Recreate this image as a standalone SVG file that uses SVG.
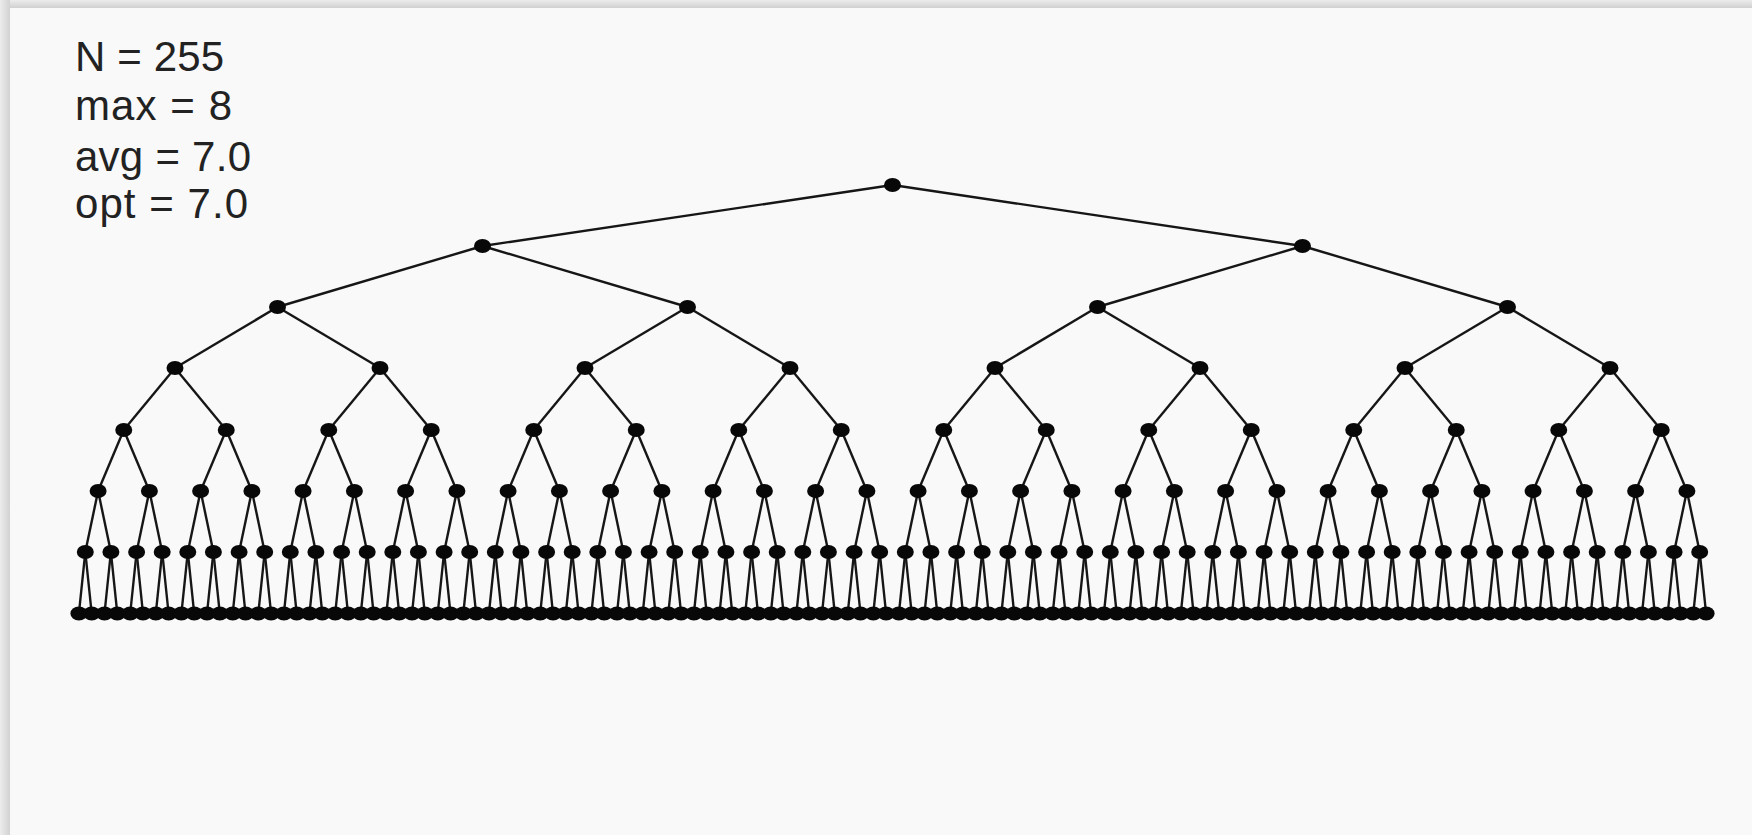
<svg xmlns="http://www.w3.org/2000/svg" width="1752" height="835" viewBox="0 0 1752 835">
<style>
.bg{fill:#f9f9f9}
.lbl{font-family:"Liberation Sans",Arial,sans-serif;font-size:42px;fill:#222}
#edges path{stroke:#161616;stroke-width:2.4;fill:none}
.n ellipse{fill:#080808}
</style>
<defs>
<linearGradient id="gl" x1="0" y1="0" x2="1" y2="0"><stop offset="0" stop-color="#ececec"/><stop offset="1" stop-color="#d2d2d2"/></linearGradient>
<linearGradient id="gt" x1="0" y1="0" x2="0" y2="1"><stop offset="0" stop-color="#ececec"/><stop offset="1" stop-color="#d0d0d0"/></linearGradient>
</defs>
<rect class="bg" x="0" y="0" width="1752" height="835"/>
<rect x="0" y="0" width="1752" height="8" fill="url(#gt)"/>
<rect x="0" y="0" width="10" height="835" fill="url(#gl)"/>
<g id="stats">
<text class="lbl" x="75" y="70.5" textLength="149" lengthAdjust="spacing">N = 255</text>
<text class="lbl" x="75" y="120" textLength="157" lengthAdjust="spacing">max = 8</text>
<text class="lbl" x="75" y="170.5" textLength="176" lengthAdjust="spacing">avg = 7.0</text>
<text class="lbl" x="75" y="218" textLength="173" lengthAdjust="spacing">opt = 7.0</text>
</g>
<g id="edges">
<path d="M892.5 185L482.5 246"/><path d="M892.5 185L1302.5 246"/>
<path d="M482.5 246L277.5 307"/><path d="M482.5 246L687.5 307"/><path d="M1302.5 246L1097.5 307"/><path d="M1302.5 246L1507.5 307"/>
<path d="M277.5 307L175 368"/><path d="M277.5 307L380 368"/><path d="M687.5 307L585 368"/><path d="M687.5 307L790 368"/><path d="M1097.5 307L995 368"/><path d="M1097.5 307L1200 368"/><path d="M1507.5 307L1405 368"/><path d="M1507.5 307L1610 368"/>
<path d="M175 368L123.75 430"/><path d="M175 368L226.25 430"/><path d="M380 368L328.75 430"/><path d="M380 368L431.25 430"/><path d="M585 368L533.75 430"/><path d="M585 368L636.25 430"/><path d="M790 368L738.75 430"/><path d="M790 368L841.25 430"/><path d="M995 368L943.75 430"/><path d="M995 368L1046.25 430"/><path d="M1200 368L1148.75 430"/><path d="M1200 368L1251.25 430"/><path d="M1405 368L1353.75 430"/><path d="M1405 368L1456.25 430"/><path d="M1610 368L1558.75 430"/><path d="M1610 368L1661.25 430"/>
<path d="M123.75 430L98.1 491"/><path d="M123.75 430L149.4 491"/><path d="M226.25 430L200.6 491"/><path d="M226.25 430L251.9 491"/><path d="M328.75 430L303.1 491"/><path d="M328.75 430L354.4 491"/><path d="M431.25 430L405.6 491"/><path d="M431.25 430L456.9 491"/><path d="M533.75 430L508.1 491"/><path d="M533.75 430L559.4 491"/><path d="M636.25 430L610.6 491"/><path d="M636.25 430L661.9 491"/><path d="M738.75 430L713.1 491"/><path d="M738.75 430L764.4 491"/><path d="M841.25 430L815.6 491"/><path d="M841.25 430L866.9 491"/><path d="M943.75 430L918.1 491"/><path d="M943.75 430L969.4 491"/><path d="M1046.25 430L1020.6 491"/><path d="M1046.25 430L1071.9 491"/><path d="M1148.75 430L1123.1 491"/><path d="M1148.75 430L1174.4 491"/><path d="M1251.25 430L1225.6 491"/><path d="M1251.25 430L1276.9 491"/><path d="M1353.75 430L1328.1 491"/><path d="M1353.75 430L1379.4 491"/><path d="M1456.25 430L1430.6 491"/><path d="M1456.25 430L1481.9 491"/><path d="M1558.75 430L1533.1 491"/><path d="M1558.75 430L1584.4 491"/><path d="M1661.25 430L1635.6 491"/><path d="M1661.25 430L1686.9 491"/>
<path d="M98.1 491L85.3 552"/><path d="M98.1 491L110.9 552"/><path d="M149.4 491L136.6 552"/><path d="M149.4 491L162.2 552"/><path d="M200.6 491L187.8 552"/><path d="M200.6 491L213.4 552"/><path d="M251.9 491L239.1 552"/><path d="M251.9 491L264.7 552"/><path d="M303.1 491L290.3 552"/><path d="M303.1 491L315.9 552"/><path d="M354.4 491L341.6 552"/><path d="M354.4 491L367.2 552"/><path d="M405.6 491L392.8 552"/><path d="M405.6 491L418.4 552"/><path d="M456.9 491L444.1 552"/><path d="M456.9 491L469.7 552"/><path d="M508.1 491L495.3 552"/><path d="M508.1 491L520.9 552"/><path d="M559.4 491L546.6 552"/><path d="M559.4 491L572.2 552"/><path d="M610.6 491L597.8 552"/><path d="M610.6 491L623.4 552"/><path d="M661.9 491L649.1 552"/><path d="M661.9 491L674.7 552"/><path d="M713.1 491L700.3 552"/><path d="M713.1 491L725.9 552"/><path d="M764.4 491L751.6 552"/><path d="M764.4 491L777.2 552"/><path d="M815.6 491L802.8 552"/><path d="M815.6 491L828.4 552"/><path d="M866.9 491L854.1 552"/><path d="M866.9 491L879.7 552"/><path d="M918.1 491L905.3 552"/><path d="M918.1 491L930.9 552"/><path d="M969.4 491L956.6 552"/><path d="M969.4 491L982.2 552"/><path d="M1020.6 491L1007.8 552"/><path d="M1020.6 491L1033.4 552"/><path d="M1071.9 491L1059.1 552"/><path d="M1071.9 491L1084.7 552"/><path d="M1123.1 491L1110.3 552"/><path d="M1123.1 491L1135.9 552"/><path d="M1174.4 491L1161.6 552"/><path d="M1174.4 491L1187.2 552"/><path d="M1225.6 491L1212.8 552"/><path d="M1225.6 491L1238.4 552"/><path d="M1276.9 491L1264.1 552"/><path d="M1276.9 491L1289.7 552"/><path d="M1328.1 491L1315.3 552"/><path d="M1328.1 491L1340.9 552"/><path d="M1379.4 491L1366.6 552"/><path d="M1379.4 491L1392.2 552"/><path d="M1430.6 491L1417.8 552"/><path d="M1430.6 491L1443.4 552"/><path d="M1481.9 491L1469.1 552"/><path d="M1481.9 491L1494.7 552"/><path d="M1533.1 491L1520.3 552"/><path d="M1533.1 491L1545.9 552"/><path d="M1584.4 491L1571.6 552"/><path d="M1584.4 491L1597.2 552"/><path d="M1635.6 491L1622.8 552"/><path d="M1635.6 491L1648.4 552"/><path d="M1686.9 491L1674.1 552"/><path d="M1686.9 491L1699.7 552"/>
<path d="M85.3 552L78.9 613.5"/><path d="M85.3 552L91.7 613.5"/><path d="M110.9 552L104.5 613.5"/><path d="M110.9 552L117.3 613.5"/><path d="M136.6 552L130.2 613.5"/><path d="M136.6 552L143 613.5"/><path d="M162.2 552L155.8 613.5"/><path d="M162.2 552L168.6 613.5"/><path d="M187.8 552L181.4 613.5"/><path d="M187.8 552L194.2 613.5"/><path d="M213.4 552L207 613.5"/><path d="M213.4 552L219.8 613.5"/><path d="M239.1 552L232.7 613.5"/><path d="M239.1 552L245.5 613.5"/><path d="M264.7 552L258.3 613.5"/><path d="M264.7 552L271.1 613.5"/><path d="M290.3 552L283.9 613.5"/><path d="M290.3 552L296.7 613.5"/><path d="M315.9 552L309.5 613.5"/><path d="M315.9 552L322.3 613.5"/><path d="M341.6 552L335.2 613.5"/><path d="M341.6 552L348 613.5"/><path d="M367.2 552L360.8 613.5"/><path d="M367.2 552L373.6 613.5"/><path d="M392.8 552L386.4 613.5"/><path d="M392.8 552L399.2 613.5"/><path d="M418.4 552L412 613.5"/><path d="M418.4 552L424.8 613.5"/><path d="M444.1 552L437.7 613.5"/><path d="M444.1 552L450.5 613.5"/><path d="M469.7 552L463.3 613.5"/><path d="M469.7 552L476.1 613.5"/><path d="M495.3 552L488.9 613.5"/><path d="M495.3 552L501.7 613.5"/><path d="M520.9 552L514.5 613.5"/><path d="M520.9 552L527.3 613.5"/><path d="M546.6 552L540.2 613.5"/><path d="M546.6 552L553 613.5"/><path d="M572.2 552L565.8 613.5"/><path d="M572.2 552L578.6 613.5"/><path d="M597.8 552L591.4 613.5"/><path d="M597.8 552L604.2 613.5"/><path d="M623.4 552L617 613.5"/><path d="M623.4 552L629.8 613.5"/><path d="M649.1 552L642.7 613.5"/><path d="M649.1 552L655.5 613.5"/><path d="M674.7 552L668.3 613.5"/><path d="M674.7 552L681.1 613.5"/><path d="M700.3 552L693.9 613.5"/><path d="M700.3 552L706.7 613.5"/><path d="M725.9 552L719.5 613.5"/><path d="M725.9 552L732.3 613.5"/><path d="M751.6 552L745.2 613.5"/><path d="M751.6 552L758 613.5"/><path d="M777.2 552L770.8 613.5"/><path d="M777.2 552L783.6 613.5"/><path d="M802.8 552L796.4 613.5"/><path d="M802.8 552L809.2 613.5"/><path d="M828.4 552L822 613.5"/><path d="M828.4 552L834.8 613.5"/><path d="M854.1 552L847.7 613.5"/><path d="M854.1 552L860.5 613.5"/><path d="M879.7 552L873.3 613.5"/><path d="M879.7 552L886.1 613.5"/><path d="M905.3 552L898.9 613.5"/><path d="M905.3 552L911.7 613.5"/><path d="M930.9 552L924.5 613.5"/><path d="M930.9 552L937.3 613.5"/><path d="M956.6 552L950.2 613.5"/><path d="M956.6 552L963 613.5"/><path d="M982.2 552L975.8 613.5"/><path d="M982.2 552L988.6 613.5"/><path d="M1007.8 552L1001.4 613.5"/><path d="M1007.8 552L1014.2 613.5"/><path d="M1033.4 552L1027 613.5"/><path d="M1033.4 552L1039.8 613.5"/><path d="M1059.1 552L1052.7 613.5"/><path d="M1059.1 552L1065.5 613.5"/><path d="M1084.7 552L1078.3 613.5"/><path d="M1084.7 552L1091.1 613.5"/><path d="M1110.3 552L1103.9 613.5"/><path d="M1110.3 552L1116.7 613.5"/><path d="M1135.9 552L1129.5 613.5"/><path d="M1135.9 552L1142.3 613.5"/><path d="M1161.6 552L1155.2 613.5"/><path d="M1161.6 552L1168 613.5"/><path d="M1187.2 552L1180.8 613.5"/><path d="M1187.2 552L1193.6 613.5"/><path d="M1212.8 552L1206.4 613.5"/><path d="M1212.8 552L1219.2 613.5"/><path d="M1238.4 552L1232 613.5"/><path d="M1238.4 552L1244.8 613.5"/><path d="M1264.1 552L1257.7 613.5"/><path d="M1264.1 552L1270.5 613.5"/><path d="M1289.7 552L1283.3 613.5"/><path d="M1289.7 552L1296.1 613.5"/><path d="M1315.3 552L1308.9 613.5"/><path d="M1315.3 552L1321.7 613.5"/><path d="M1340.9 552L1334.5 613.5"/><path d="M1340.9 552L1347.3 613.5"/><path d="M1366.6 552L1360.2 613.5"/><path d="M1366.6 552L1373 613.5"/><path d="M1392.2 552L1385.8 613.5"/><path d="M1392.2 552L1398.6 613.5"/><path d="M1417.8 552L1411.4 613.5"/><path d="M1417.8 552L1424.2 613.5"/><path d="M1443.4 552L1437 613.5"/><path d="M1443.4 552L1449.8 613.5"/><path d="M1469.1 552L1462.7 613.5"/><path d="M1469.1 552L1475.5 613.5"/><path d="M1494.7 552L1488.3 613.5"/><path d="M1494.7 552L1501.1 613.5"/><path d="M1520.3 552L1513.9 613.5"/><path d="M1520.3 552L1526.7 613.5"/><path d="M1545.9 552L1539.5 613.5"/><path d="M1545.9 552L1552.3 613.5"/><path d="M1571.6 552L1565.2 613.5"/><path d="M1571.6 552L1578 613.5"/><path d="M1597.2 552L1590.8 613.5"/><path d="M1597.2 552L1603.6 613.5"/><path d="M1622.8 552L1616.4 613.5"/><path d="M1622.8 552L1629.2 613.5"/><path d="M1648.4 552L1642 613.5"/><path d="M1648.4 552L1654.8 613.5"/><path d="M1674.1 552L1667.7 613.5"/><path d="M1674.1 552L1680.5 613.5"/><path d="M1699.7 552L1693.3 613.5"/><path d="M1699.7 552L1706.1 613.5"/>
</g>
<g id="nodes">
<g id="n1" class="n"><ellipse cx="892.5" cy="185" rx="8.5" ry="7"/></g>
<g id="n2" class="n"><ellipse cx="482.5" cy="246" rx="8.5" ry="7"/></g>
<g id="n3" class="n"><ellipse cx="1302.5" cy="246" rx="8.5" ry="7"/></g>
<g id="n4" class="n"><ellipse cx="277.5" cy="307" rx="8.5" ry="7"/></g>
<g id="n5" class="n"><ellipse cx="687.5" cy="307" rx="8.5" ry="7"/></g>
<g id="n6" class="n"><ellipse cx="1097.5" cy="307" rx="8.5" ry="7"/></g>
<g id="n7" class="n"><ellipse cx="1507.5" cy="307" rx="8.5" ry="7"/></g>
<g id="n8" class="n"><ellipse cx="175" cy="368" rx="8.5" ry="7"/></g>
<g id="n9" class="n"><ellipse cx="380" cy="368" rx="8.5" ry="7"/></g>
<g id="n10" class="n"><ellipse cx="585" cy="368" rx="8.5" ry="7"/></g>
<g id="n11" class="n"><ellipse cx="790" cy="368" rx="8.5" ry="7"/></g>
<g id="n12" class="n"><ellipse cx="995" cy="368" rx="8.5" ry="7"/></g>
<g id="n13" class="n"><ellipse cx="1200" cy="368" rx="8.5" ry="7"/></g>
<g id="n14" class="n"><ellipse cx="1405" cy="368" rx="8.5" ry="7"/></g>
<g id="n15" class="n"><ellipse cx="1610" cy="368" rx="8.5" ry="7"/></g>
<g id="n16" class="n"><ellipse cx="123.75" cy="430" rx="8.5" ry="7"/></g>
<g id="n17" class="n"><ellipse cx="226.25" cy="430" rx="8.5" ry="7"/></g>
<g id="n18" class="n"><ellipse cx="328.75" cy="430" rx="8.5" ry="7"/></g>
<g id="n19" class="n"><ellipse cx="431.25" cy="430" rx="8.5" ry="7"/></g>
<g id="n20" class="n"><ellipse cx="533.75" cy="430" rx="8.5" ry="7"/></g>
<g id="n21" class="n"><ellipse cx="636.25" cy="430" rx="8.5" ry="7"/></g>
<g id="n22" class="n"><ellipse cx="738.75" cy="430" rx="8.5" ry="7"/></g>
<g id="n23" class="n"><ellipse cx="841.25" cy="430" rx="8.5" ry="7"/></g>
<g id="n24" class="n"><ellipse cx="943.75" cy="430" rx="8.5" ry="7"/></g>
<g id="n25" class="n"><ellipse cx="1046.25" cy="430" rx="8.5" ry="7"/></g>
<g id="n26" class="n"><ellipse cx="1148.75" cy="430" rx="8.5" ry="7"/></g>
<g id="n27" class="n"><ellipse cx="1251.25" cy="430" rx="8.5" ry="7"/></g>
<g id="n28" class="n"><ellipse cx="1353.75" cy="430" rx="8.5" ry="7"/></g>
<g id="n29" class="n"><ellipse cx="1456.25" cy="430" rx="8.5" ry="7"/></g>
<g id="n30" class="n"><ellipse cx="1558.75" cy="430" rx="8.5" ry="7"/></g>
<g id="n31" class="n"><ellipse cx="1661.25" cy="430" rx="8.5" ry="7"/></g>
<g id="n32" class="n"><ellipse cx="98.1" cy="491" rx="8.5" ry="7"/></g>
<g id="n33" class="n"><ellipse cx="149.4" cy="491" rx="8.5" ry="7"/></g>
<g id="n34" class="n"><ellipse cx="200.6" cy="491" rx="8.5" ry="7"/></g>
<g id="n35" class="n"><ellipse cx="251.9" cy="491" rx="8.5" ry="7"/></g>
<g id="n36" class="n"><ellipse cx="303.1" cy="491" rx="8.5" ry="7"/></g>
<g id="n37" class="n"><ellipse cx="354.4" cy="491" rx="8.5" ry="7"/></g>
<g id="n38" class="n"><ellipse cx="405.6" cy="491" rx="8.5" ry="7"/></g>
<g id="n39" class="n"><ellipse cx="456.9" cy="491" rx="8.5" ry="7"/></g>
<g id="n40" class="n"><ellipse cx="508.1" cy="491" rx="8.5" ry="7"/></g>
<g id="n41" class="n"><ellipse cx="559.4" cy="491" rx="8.5" ry="7"/></g>
<g id="n42" class="n"><ellipse cx="610.6" cy="491" rx="8.5" ry="7"/></g>
<g id="n43" class="n"><ellipse cx="661.9" cy="491" rx="8.5" ry="7"/></g>
<g id="n44" class="n"><ellipse cx="713.1" cy="491" rx="8.5" ry="7"/></g>
<g id="n45" class="n"><ellipse cx="764.4" cy="491" rx="8.5" ry="7"/></g>
<g id="n46" class="n"><ellipse cx="815.6" cy="491" rx="8.5" ry="7"/></g>
<g id="n47" class="n"><ellipse cx="866.9" cy="491" rx="8.5" ry="7"/></g>
<g id="n48" class="n"><ellipse cx="918.1" cy="491" rx="8.5" ry="7"/></g>
<g id="n49" class="n"><ellipse cx="969.4" cy="491" rx="8.5" ry="7"/></g>
<g id="n50" class="n"><ellipse cx="1020.6" cy="491" rx="8.5" ry="7"/></g>
<g id="n51" class="n"><ellipse cx="1071.9" cy="491" rx="8.5" ry="7"/></g>
<g id="n52" class="n"><ellipse cx="1123.1" cy="491" rx="8.5" ry="7"/></g>
<g id="n53" class="n"><ellipse cx="1174.4" cy="491" rx="8.5" ry="7"/></g>
<g id="n54" class="n"><ellipse cx="1225.6" cy="491" rx="8.5" ry="7"/></g>
<g id="n55" class="n"><ellipse cx="1276.9" cy="491" rx="8.5" ry="7"/></g>
<g id="n56" class="n"><ellipse cx="1328.1" cy="491" rx="8.5" ry="7"/></g>
<g id="n57" class="n"><ellipse cx="1379.4" cy="491" rx="8.5" ry="7"/></g>
<g id="n58" class="n"><ellipse cx="1430.6" cy="491" rx="8.5" ry="7"/></g>
<g id="n59" class="n"><ellipse cx="1481.9" cy="491" rx="8.5" ry="7"/></g>
<g id="n60" class="n"><ellipse cx="1533.1" cy="491" rx="8.5" ry="7"/></g>
<g id="n61" class="n"><ellipse cx="1584.4" cy="491" rx="8.5" ry="7"/></g>
<g id="n62" class="n"><ellipse cx="1635.6" cy="491" rx="8.5" ry="7"/></g>
<g id="n63" class="n"><ellipse cx="1686.9" cy="491" rx="8.5" ry="7"/></g>
<g id="n64" class="n"><ellipse cx="85.3" cy="552" rx="8.5" ry="7"/></g>
<g id="n65" class="n"><ellipse cx="110.9" cy="552" rx="8.5" ry="7"/></g>
<g id="n66" class="n"><ellipse cx="136.6" cy="552" rx="8.5" ry="7"/></g>
<g id="n67" class="n"><ellipse cx="162.2" cy="552" rx="8.5" ry="7"/></g>
<g id="n68" class="n"><ellipse cx="187.8" cy="552" rx="8.5" ry="7"/></g>
<g id="n69" class="n"><ellipse cx="213.4" cy="552" rx="8.5" ry="7"/></g>
<g id="n70" class="n"><ellipse cx="239.1" cy="552" rx="8.5" ry="7"/></g>
<g id="n71" class="n"><ellipse cx="264.7" cy="552" rx="8.5" ry="7"/></g>
<g id="n72" class="n"><ellipse cx="290.3" cy="552" rx="8.5" ry="7"/></g>
<g id="n73" class="n"><ellipse cx="315.9" cy="552" rx="8.5" ry="7"/></g>
<g id="n74" class="n"><ellipse cx="341.6" cy="552" rx="8.5" ry="7"/></g>
<g id="n75" class="n"><ellipse cx="367.2" cy="552" rx="8.5" ry="7"/></g>
<g id="n76" class="n"><ellipse cx="392.8" cy="552" rx="8.5" ry="7"/></g>
<g id="n77" class="n"><ellipse cx="418.4" cy="552" rx="8.5" ry="7"/></g>
<g id="n78" class="n"><ellipse cx="444.1" cy="552" rx="8.5" ry="7"/></g>
<g id="n79" class="n"><ellipse cx="469.7" cy="552" rx="8.5" ry="7"/></g>
<g id="n80" class="n"><ellipse cx="495.3" cy="552" rx="8.5" ry="7"/></g>
<g id="n81" class="n"><ellipse cx="520.9" cy="552" rx="8.5" ry="7"/></g>
<g id="n82" class="n"><ellipse cx="546.6" cy="552" rx="8.5" ry="7"/></g>
<g id="n83" class="n"><ellipse cx="572.2" cy="552" rx="8.5" ry="7"/></g>
<g id="n84" class="n"><ellipse cx="597.8" cy="552" rx="8.5" ry="7"/></g>
<g id="n85" class="n"><ellipse cx="623.4" cy="552" rx="8.5" ry="7"/></g>
<g id="n86" class="n"><ellipse cx="649.1" cy="552" rx="8.5" ry="7"/></g>
<g id="n87" class="n"><ellipse cx="674.7" cy="552" rx="8.5" ry="7"/></g>
<g id="n88" class="n"><ellipse cx="700.3" cy="552" rx="8.5" ry="7"/></g>
<g id="n89" class="n"><ellipse cx="725.9" cy="552" rx="8.5" ry="7"/></g>
<g id="n90" class="n"><ellipse cx="751.6" cy="552" rx="8.5" ry="7"/></g>
<g id="n91" class="n"><ellipse cx="777.2" cy="552" rx="8.5" ry="7"/></g>
<g id="n92" class="n"><ellipse cx="802.8" cy="552" rx="8.5" ry="7"/></g>
<g id="n93" class="n"><ellipse cx="828.4" cy="552" rx="8.5" ry="7"/></g>
<g id="n94" class="n"><ellipse cx="854.1" cy="552" rx="8.5" ry="7"/></g>
<g id="n95" class="n"><ellipse cx="879.7" cy="552" rx="8.5" ry="7"/></g>
<g id="n96" class="n"><ellipse cx="905.3" cy="552" rx="8.5" ry="7"/></g>
<g id="n97" class="n"><ellipse cx="930.9" cy="552" rx="8.5" ry="7"/></g>
<g id="n98" class="n"><ellipse cx="956.6" cy="552" rx="8.5" ry="7"/></g>
<g id="n99" class="n"><ellipse cx="982.2" cy="552" rx="8.5" ry="7"/></g>
<g id="n100" class="n"><ellipse cx="1007.8" cy="552" rx="8.5" ry="7"/></g>
<g id="n101" class="n"><ellipse cx="1033.4" cy="552" rx="8.5" ry="7"/></g>
<g id="n102" class="n"><ellipse cx="1059.1" cy="552" rx="8.5" ry="7"/></g>
<g id="n103" class="n"><ellipse cx="1084.7" cy="552" rx="8.5" ry="7"/></g>
<g id="n104" class="n"><ellipse cx="1110.3" cy="552" rx="8.5" ry="7"/></g>
<g id="n105" class="n"><ellipse cx="1135.9" cy="552" rx="8.5" ry="7"/></g>
<g id="n106" class="n"><ellipse cx="1161.6" cy="552" rx="8.5" ry="7"/></g>
<g id="n107" class="n"><ellipse cx="1187.2" cy="552" rx="8.5" ry="7"/></g>
<g id="n108" class="n"><ellipse cx="1212.8" cy="552" rx="8.5" ry="7"/></g>
<g id="n109" class="n"><ellipse cx="1238.4" cy="552" rx="8.5" ry="7"/></g>
<g id="n110" class="n"><ellipse cx="1264.1" cy="552" rx="8.5" ry="7"/></g>
<g id="n111" class="n"><ellipse cx="1289.7" cy="552" rx="8.5" ry="7"/></g>
<g id="n112" class="n"><ellipse cx="1315.3" cy="552" rx="8.5" ry="7"/></g>
<g id="n113" class="n"><ellipse cx="1340.9" cy="552" rx="8.5" ry="7"/></g>
<g id="n114" class="n"><ellipse cx="1366.6" cy="552" rx="8.5" ry="7"/></g>
<g id="n115" class="n"><ellipse cx="1392.2" cy="552" rx="8.5" ry="7"/></g>
<g id="n116" class="n"><ellipse cx="1417.8" cy="552" rx="8.5" ry="7"/></g>
<g id="n117" class="n"><ellipse cx="1443.4" cy="552" rx="8.5" ry="7"/></g>
<g id="n118" class="n"><ellipse cx="1469.1" cy="552" rx="8.5" ry="7"/></g>
<g id="n119" class="n"><ellipse cx="1494.7" cy="552" rx="8.5" ry="7"/></g>
<g id="n120" class="n"><ellipse cx="1520.3" cy="552" rx="8.5" ry="7"/></g>
<g id="n121" class="n"><ellipse cx="1545.9" cy="552" rx="8.5" ry="7"/></g>
<g id="n122" class="n"><ellipse cx="1571.6" cy="552" rx="8.5" ry="7"/></g>
<g id="n123" class="n"><ellipse cx="1597.2" cy="552" rx="8.5" ry="7"/></g>
<g id="n124" class="n"><ellipse cx="1622.8" cy="552" rx="8.5" ry="7"/></g>
<g id="n125" class="n"><ellipse cx="1648.4" cy="552" rx="8.5" ry="7"/></g>
<g id="n126" class="n"><ellipse cx="1674.1" cy="552" rx="8.5" ry="7"/></g>
<g id="n127" class="n"><ellipse cx="1699.7" cy="552" rx="8.5" ry="7"/></g>
<g id="n128" class="n"><ellipse cx="78.9" cy="613.5" rx="8.5" ry="7"/></g>
<g id="n129" class="n"><ellipse cx="91.7" cy="613.5" rx="8.5" ry="7"/></g>
<g id="n130" class="n"><ellipse cx="104.5" cy="613.5" rx="8.5" ry="7"/></g>
<g id="n131" class="n"><ellipse cx="117.3" cy="613.5" rx="8.5" ry="7"/></g>
<g id="n132" class="n"><ellipse cx="130.2" cy="613.5" rx="8.5" ry="7"/></g>
<g id="n133" class="n"><ellipse cx="143" cy="613.5" rx="8.5" ry="7"/></g>
<g id="n134" class="n"><ellipse cx="155.8" cy="613.5" rx="8.5" ry="7"/></g>
<g id="n135" class="n"><ellipse cx="168.6" cy="613.5" rx="8.5" ry="7"/></g>
<g id="n136" class="n"><ellipse cx="181.4" cy="613.5" rx="8.5" ry="7"/></g>
<g id="n137" class="n"><ellipse cx="194.2" cy="613.5" rx="8.5" ry="7"/></g>
<g id="n138" class="n"><ellipse cx="207" cy="613.5" rx="8.5" ry="7"/></g>
<g id="n139" class="n"><ellipse cx="219.8" cy="613.5" rx="8.5" ry="7"/></g>
<g id="n140" class="n"><ellipse cx="232.7" cy="613.5" rx="8.5" ry="7"/></g>
<g id="n141" class="n"><ellipse cx="245.5" cy="613.5" rx="8.5" ry="7"/></g>
<g id="n142" class="n"><ellipse cx="258.3" cy="613.5" rx="8.5" ry="7"/></g>
<g id="n143" class="n"><ellipse cx="271.1" cy="613.5" rx="8.5" ry="7"/></g>
<g id="n144" class="n"><ellipse cx="283.9" cy="613.5" rx="8.5" ry="7"/></g>
<g id="n145" class="n"><ellipse cx="296.7" cy="613.5" rx="8.5" ry="7"/></g>
<g id="n146" class="n"><ellipse cx="309.5" cy="613.5" rx="8.5" ry="7"/></g>
<g id="n147" class="n"><ellipse cx="322.3" cy="613.5" rx="8.5" ry="7"/></g>
<g id="n148" class="n"><ellipse cx="335.2" cy="613.5" rx="8.5" ry="7"/></g>
<g id="n149" class="n"><ellipse cx="348" cy="613.5" rx="8.5" ry="7"/></g>
<g id="n150" class="n"><ellipse cx="360.8" cy="613.5" rx="8.5" ry="7"/></g>
<g id="n151" class="n"><ellipse cx="373.6" cy="613.5" rx="8.5" ry="7"/></g>
<g id="n152" class="n"><ellipse cx="386.4" cy="613.5" rx="8.5" ry="7"/></g>
<g id="n153" class="n"><ellipse cx="399.2" cy="613.5" rx="8.5" ry="7"/></g>
<g id="n154" class="n"><ellipse cx="412" cy="613.5" rx="8.5" ry="7"/></g>
<g id="n155" class="n"><ellipse cx="424.8" cy="613.5" rx="8.5" ry="7"/></g>
<g id="n156" class="n"><ellipse cx="437.7" cy="613.5" rx="8.5" ry="7"/></g>
<g id="n157" class="n"><ellipse cx="450.5" cy="613.5" rx="8.5" ry="7"/></g>
<g id="n158" class="n"><ellipse cx="463.3" cy="613.5" rx="8.5" ry="7"/></g>
<g id="n159" class="n"><ellipse cx="476.1" cy="613.5" rx="8.5" ry="7"/></g>
<g id="n160" class="n"><ellipse cx="488.9" cy="613.5" rx="8.5" ry="7"/></g>
<g id="n161" class="n"><ellipse cx="501.7" cy="613.5" rx="8.5" ry="7"/></g>
<g id="n162" class="n"><ellipse cx="514.5" cy="613.5" rx="8.5" ry="7"/></g>
<g id="n163" class="n"><ellipse cx="527.3" cy="613.5" rx="8.5" ry="7"/></g>
<g id="n164" class="n"><ellipse cx="540.2" cy="613.5" rx="8.5" ry="7"/></g>
<g id="n165" class="n"><ellipse cx="553" cy="613.5" rx="8.5" ry="7"/></g>
<g id="n166" class="n"><ellipse cx="565.8" cy="613.5" rx="8.5" ry="7"/></g>
<g id="n167" class="n"><ellipse cx="578.6" cy="613.5" rx="8.5" ry="7"/></g>
<g id="n168" class="n"><ellipse cx="591.4" cy="613.5" rx="8.5" ry="7"/></g>
<g id="n169" class="n"><ellipse cx="604.2" cy="613.5" rx="8.5" ry="7"/></g>
<g id="n170" class="n"><ellipse cx="617" cy="613.5" rx="8.5" ry="7"/></g>
<g id="n171" class="n"><ellipse cx="629.8" cy="613.5" rx="8.5" ry="7"/></g>
<g id="n172" class="n"><ellipse cx="642.7" cy="613.5" rx="8.5" ry="7"/></g>
<g id="n173" class="n"><ellipse cx="655.5" cy="613.5" rx="8.5" ry="7"/></g>
<g id="n174" class="n"><ellipse cx="668.3" cy="613.5" rx="8.5" ry="7"/></g>
<g id="n175" class="n"><ellipse cx="681.1" cy="613.5" rx="8.5" ry="7"/></g>
<g id="n176" class="n"><ellipse cx="693.9" cy="613.5" rx="8.5" ry="7"/></g>
<g id="n177" class="n"><ellipse cx="706.7" cy="613.5" rx="8.5" ry="7"/></g>
<g id="n178" class="n"><ellipse cx="719.5" cy="613.5" rx="8.5" ry="7"/></g>
<g id="n179" class="n"><ellipse cx="732.3" cy="613.5" rx="8.5" ry="7"/></g>
<g id="n180" class="n"><ellipse cx="745.2" cy="613.5" rx="8.5" ry="7"/></g>
<g id="n181" class="n"><ellipse cx="758" cy="613.5" rx="8.5" ry="7"/></g>
<g id="n182" class="n"><ellipse cx="770.8" cy="613.5" rx="8.5" ry="7"/></g>
<g id="n183" class="n"><ellipse cx="783.6" cy="613.5" rx="8.5" ry="7"/></g>
<g id="n184" class="n"><ellipse cx="796.4" cy="613.5" rx="8.5" ry="7"/></g>
<g id="n185" class="n"><ellipse cx="809.2" cy="613.5" rx="8.5" ry="7"/></g>
<g id="n186" class="n"><ellipse cx="822" cy="613.5" rx="8.5" ry="7"/></g>
<g id="n187" class="n"><ellipse cx="834.8" cy="613.5" rx="8.5" ry="7"/></g>
<g id="n188" class="n"><ellipse cx="847.7" cy="613.5" rx="8.5" ry="7"/></g>
<g id="n189" class="n"><ellipse cx="860.5" cy="613.5" rx="8.5" ry="7"/></g>
<g id="n190" class="n"><ellipse cx="873.3" cy="613.5" rx="8.5" ry="7"/></g>
<g id="n191" class="n"><ellipse cx="886.1" cy="613.5" rx="8.5" ry="7"/></g>
<g id="n192" class="n"><ellipse cx="898.9" cy="613.5" rx="8.5" ry="7"/></g>
<g id="n193" class="n"><ellipse cx="911.7" cy="613.5" rx="8.5" ry="7"/></g>
<g id="n194" class="n"><ellipse cx="924.5" cy="613.5" rx="8.5" ry="7"/></g>
<g id="n195" class="n"><ellipse cx="937.3" cy="613.5" rx="8.5" ry="7"/></g>
<g id="n196" class="n"><ellipse cx="950.2" cy="613.5" rx="8.5" ry="7"/></g>
<g id="n197" class="n"><ellipse cx="963" cy="613.5" rx="8.5" ry="7"/></g>
<g id="n198" class="n"><ellipse cx="975.8" cy="613.5" rx="8.5" ry="7"/></g>
<g id="n199" class="n"><ellipse cx="988.6" cy="613.5" rx="8.5" ry="7"/></g>
<g id="n200" class="n"><ellipse cx="1001.4" cy="613.5" rx="8.5" ry="7"/></g>
<g id="n201" class="n"><ellipse cx="1014.2" cy="613.5" rx="8.5" ry="7"/></g>
<g id="n202" class="n"><ellipse cx="1027" cy="613.5" rx="8.5" ry="7"/></g>
<g id="n203" class="n"><ellipse cx="1039.8" cy="613.5" rx="8.5" ry="7"/></g>
<g id="n204" class="n"><ellipse cx="1052.7" cy="613.5" rx="8.5" ry="7"/></g>
<g id="n205" class="n"><ellipse cx="1065.5" cy="613.5" rx="8.5" ry="7"/></g>
<g id="n206" class="n"><ellipse cx="1078.3" cy="613.5" rx="8.5" ry="7"/></g>
<g id="n207" class="n"><ellipse cx="1091.1" cy="613.5" rx="8.5" ry="7"/></g>
<g id="n208" class="n"><ellipse cx="1103.9" cy="613.5" rx="8.5" ry="7"/></g>
<g id="n209" class="n"><ellipse cx="1116.7" cy="613.5" rx="8.5" ry="7"/></g>
<g id="n210" class="n"><ellipse cx="1129.5" cy="613.5" rx="8.5" ry="7"/></g>
<g id="n211" class="n"><ellipse cx="1142.3" cy="613.5" rx="8.5" ry="7"/></g>
<g id="n212" class="n"><ellipse cx="1155.2" cy="613.5" rx="8.5" ry="7"/></g>
<g id="n213" class="n"><ellipse cx="1168" cy="613.5" rx="8.5" ry="7"/></g>
<g id="n214" class="n"><ellipse cx="1180.8" cy="613.5" rx="8.5" ry="7"/></g>
<g id="n215" class="n"><ellipse cx="1193.6" cy="613.5" rx="8.5" ry="7"/></g>
<g id="n216" class="n"><ellipse cx="1206.4" cy="613.5" rx="8.5" ry="7"/></g>
<g id="n217" class="n"><ellipse cx="1219.2" cy="613.5" rx="8.5" ry="7"/></g>
<g id="n218" class="n"><ellipse cx="1232" cy="613.5" rx="8.5" ry="7"/></g>
<g id="n219" class="n"><ellipse cx="1244.8" cy="613.5" rx="8.5" ry="7"/></g>
<g id="n220" class="n"><ellipse cx="1257.7" cy="613.5" rx="8.5" ry="7"/></g>
<g id="n221" class="n"><ellipse cx="1270.5" cy="613.5" rx="8.5" ry="7"/></g>
<g id="n222" class="n"><ellipse cx="1283.3" cy="613.5" rx="8.5" ry="7"/></g>
<g id="n223" class="n"><ellipse cx="1296.1" cy="613.5" rx="8.5" ry="7"/></g>
<g id="n224" class="n"><ellipse cx="1308.9" cy="613.5" rx="8.5" ry="7"/></g>
<g id="n225" class="n"><ellipse cx="1321.7" cy="613.5" rx="8.5" ry="7"/></g>
<g id="n226" class="n"><ellipse cx="1334.5" cy="613.5" rx="8.5" ry="7"/></g>
<g id="n227" class="n"><ellipse cx="1347.3" cy="613.5" rx="8.5" ry="7"/></g>
<g id="n228" class="n"><ellipse cx="1360.2" cy="613.5" rx="8.5" ry="7"/></g>
<g id="n229" class="n"><ellipse cx="1373" cy="613.5" rx="8.5" ry="7"/></g>
<g id="n230" class="n"><ellipse cx="1385.8" cy="613.5" rx="8.5" ry="7"/></g>
<g id="n231" class="n"><ellipse cx="1398.6" cy="613.5" rx="8.5" ry="7"/></g>
<g id="n232" class="n"><ellipse cx="1411.4" cy="613.5" rx="8.5" ry="7"/></g>
<g id="n233" class="n"><ellipse cx="1424.2" cy="613.5" rx="8.5" ry="7"/></g>
<g id="n234" class="n"><ellipse cx="1437" cy="613.5" rx="8.5" ry="7"/></g>
<g id="n235" class="n"><ellipse cx="1449.8" cy="613.5" rx="8.5" ry="7"/></g>
<g id="n236" class="n"><ellipse cx="1462.7" cy="613.5" rx="8.5" ry="7"/></g>
<g id="n237" class="n"><ellipse cx="1475.5" cy="613.5" rx="8.5" ry="7"/></g>
<g id="n238" class="n"><ellipse cx="1488.3" cy="613.5" rx="8.5" ry="7"/></g>
<g id="n239" class="n"><ellipse cx="1501.1" cy="613.5" rx="8.5" ry="7"/></g>
<g id="n240" class="n"><ellipse cx="1513.9" cy="613.5" rx="8.5" ry="7"/></g>
<g id="n241" class="n"><ellipse cx="1526.7" cy="613.5" rx="8.5" ry="7"/></g>
<g id="n242" class="n"><ellipse cx="1539.5" cy="613.5" rx="8.5" ry="7"/></g>
<g id="n243" class="n"><ellipse cx="1552.3" cy="613.5" rx="8.5" ry="7"/></g>
<g id="n244" class="n"><ellipse cx="1565.2" cy="613.5" rx="8.5" ry="7"/></g>
<g id="n245" class="n"><ellipse cx="1578" cy="613.5" rx="8.5" ry="7"/></g>
<g id="n246" class="n"><ellipse cx="1590.8" cy="613.5" rx="8.5" ry="7"/></g>
<g id="n247" class="n"><ellipse cx="1603.6" cy="613.5" rx="8.5" ry="7"/></g>
<g id="n248" class="n"><ellipse cx="1616.4" cy="613.5" rx="8.5" ry="7"/></g>
<g id="n249" class="n"><ellipse cx="1629.2" cy="613.5" rx="8.5" ry="7"/></g>
<g id="n250" class="n"><ellipse cx="1642" cy="613.5" rx="8.5" ry="7"/></g>
<g id="n251" class="n"><ellipse cx="1654.8" cy="613.5" rx="8.5" ry="7"/></g>
<g id="n252" class="n"><ellipse cx="1667.7" cy="613.5" rx="8.5" ry="7"/></g>
<g id="n253" class="n"><ellipse cx="1680.5" cy="613.5" rx="8.5" ry="7"/></g>
<g id="n254" class="n"><ellipse cx="1693.3" cy="613.5" rx="8.5" ry="7"/></g>
<g id="n255" class="n"><ellipse cx="1706.1" cy="613.5" rx="8.5" ry="7"/></g>
</g>
</svg>
